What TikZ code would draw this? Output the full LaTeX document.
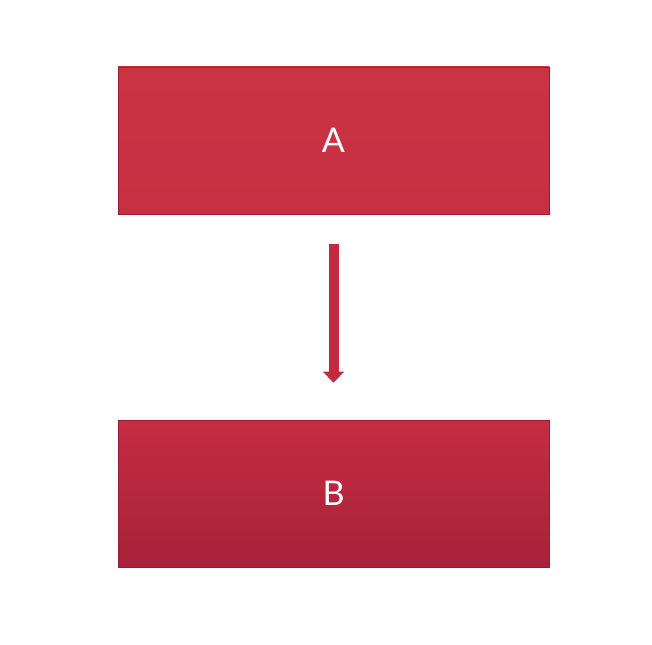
\documentclass[tikz,border=0pt]{standalone}
\usepackage{fontspec}
\setmainfont{Lato}
\usetikzlibrary{arrows.meta}
\definecolor{boxA}{HTML}{C63042}
\definecolor{boxAtop}{HTML}{C93344}
\definecolor{boxBtop}{HTML}{C52C42}
\definecolor{boxBbot}{HTML}{A72239}
\definecolor{edgec}{HTML}{9A1C30}
\definecolor{arrowc}{HTML}{C32A40}
\tikzset{
  boxnode/.style={draw=edgec, line width=0.8pt, minimum width=431pt, minimum height=147pt,
    inner sep=0pt, font=\fontsize{34}{40}\selectfont, text=white},
  flowarrow/.style={draw=arrowc, line width=10pt, -{Triangle[width=21pt,length=11pt]}}
}
\begin{document}
\begin{tikzpicture}[x=1pt,y=-1pt]
\useasboundingbox[fill=white] (0,0) rectangle (652,644);
\node[boxnode, top color=boxAtop, bottom color=boxA] (A) at (333.5,140.5) {A};
\node[boxnode, top color=boxBtop, bottom color=boxBbot] (B) at (333.5,493.5) {B};
\draw[flowarrow, shorten <=30pt, shorten >=37pt] (A.south) -- (B.north);
\end{tikzpicture}
\end{document}
